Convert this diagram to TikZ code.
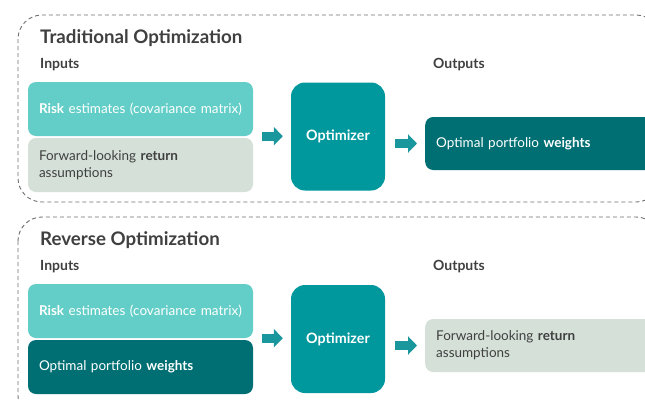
\documentclass[tikz,border=0pt]{standalone}
\usepackage{fontspec}
\setmainfont{Lato}
\usepackage{tikz}
\usetikzlibrary{arrows.meta,calc}
\definecolor{riskteal}{HTML}{63CEC7}
\definecolor{retgrey}{HTML}{D4E0D8}
\definecolor{optteal}{HTML}{00979D}
\definecolor{wtteal}{HTML}{006F73}
\definecolor{arrteal}{HTML}{1A979D}
\definecolor{txtgrey}{HTML}{404040}
\definecolor{dashgrey}{HTML}{707070}

\tikzset{
  frame/.style={draw=dashgrey, line width=0.9pt, dash pattern=on 4pt off 3pt, rounded corners=24pt},
  heading/.style={anchor=base west, inner sep=0pt, text=txtgrey, font=\fontsize{18.7}{21}\selectfont\bfseries},
  colhead/.style={anchor=base west, inner sep=0pt, text=txtgrey, font=\fontsize{14}{16}\selectfont\bfseries},
  box/.style={rounded corners=8pt, minimum height=54pt, inner xsep=11pt, align=left, font=\fontsize{13.5}{17}\selectfont},
  inbox/.style={box, text width=203pt},
  outbox/.style={box, anchor=west, minimum height=53pt, text width=213pt},
  optbox/.style={fill=optteal, rounded corners=14pt, minimum width=94pt, minimum height=108pt, text=white, font=\fontsize{14.3}{16}\selectfont\bfseries},
  flow/.style={draw=arrteal, line width=9pt, -{Triangle[length=9pt,width=18pt]}},
}

\begin{document}
\begin{tikzpicture}[x=1pt,y=-1pt]
\useasboundingbox (0,0) rectangle (645,399);
\clip (0,0) rectangle (645,399);
\fill[white] (0,0) rectangle (645,399);

% traditional
\draw[frame] (18,15) rectangle (660,202);
\node[heading] (t1) at (40,43) {Traditional Optimization};
\node[colhead] (in1h) at (40,68) {Inputs};
\node[colhead] (out1h) at (433,68) {Outputs};
\node[inbox, fill=riskteal, text=white] (risk1) at (140.5,109) {\textbf{Risk} estimates (covariance matrix)};
\node[inbox, fill=retgrey, text=txtgrey] (ret1) at (140.5,165) {Forward-looking \textbf{return}\\assumptions};
\node[optbox] (opt1) at (338,136.5) {Optimizer};
\node[outbox, fill=wtteal, text=white] (wt1) at (425,143.5) {Optimal portfolio \textbf{weights}};
\draw[flow, shorten <=9pt, shorten >=8pt] (risk1.south east) -- (risk1.south east -| opt1.west);
\draw[flow, shorten <=10pt, shorten >=8pt] (opt1.east |- wt1.west) -- (wt1.west);

% reverse
\draw[frame] (18,217) rectangle (660,420);
\node[heading] (t2) at (40,245) {Reverse Optimization};
\node[colhead] (in2h) at (40,270) {Inputs};
\node[colhead] (out2h) at (433,270) {Outputs};
\node[inbox, fill=riskteal, text=white] (risk2) at (140.5,311) {\textbf{Risk} estimates (covariance matrix)};
\node[inbox, fill=wtteal, text=white] (wt2) at (140.5,367) {Optimal portfolio \textbf{weights}};
\node[optbox] (opt2) at (338,339) {Optimizer};
\node[outbox, fill=retgrey, text=txtgrey] (ret2) at (425,345.5) {Forward-looking \textbf{return}\\assumptions};
\draw[flow, shorten <=9pt, shorten >=8pt] (risk2.south east) -- (risk2.south east -| opt2.west);
\draw[flow, shorten <=10pt, shorten >=8pt] (opt2.east |- ret2.west) -- (ret2.west);
\end{tikzpicture}
\end{document}
